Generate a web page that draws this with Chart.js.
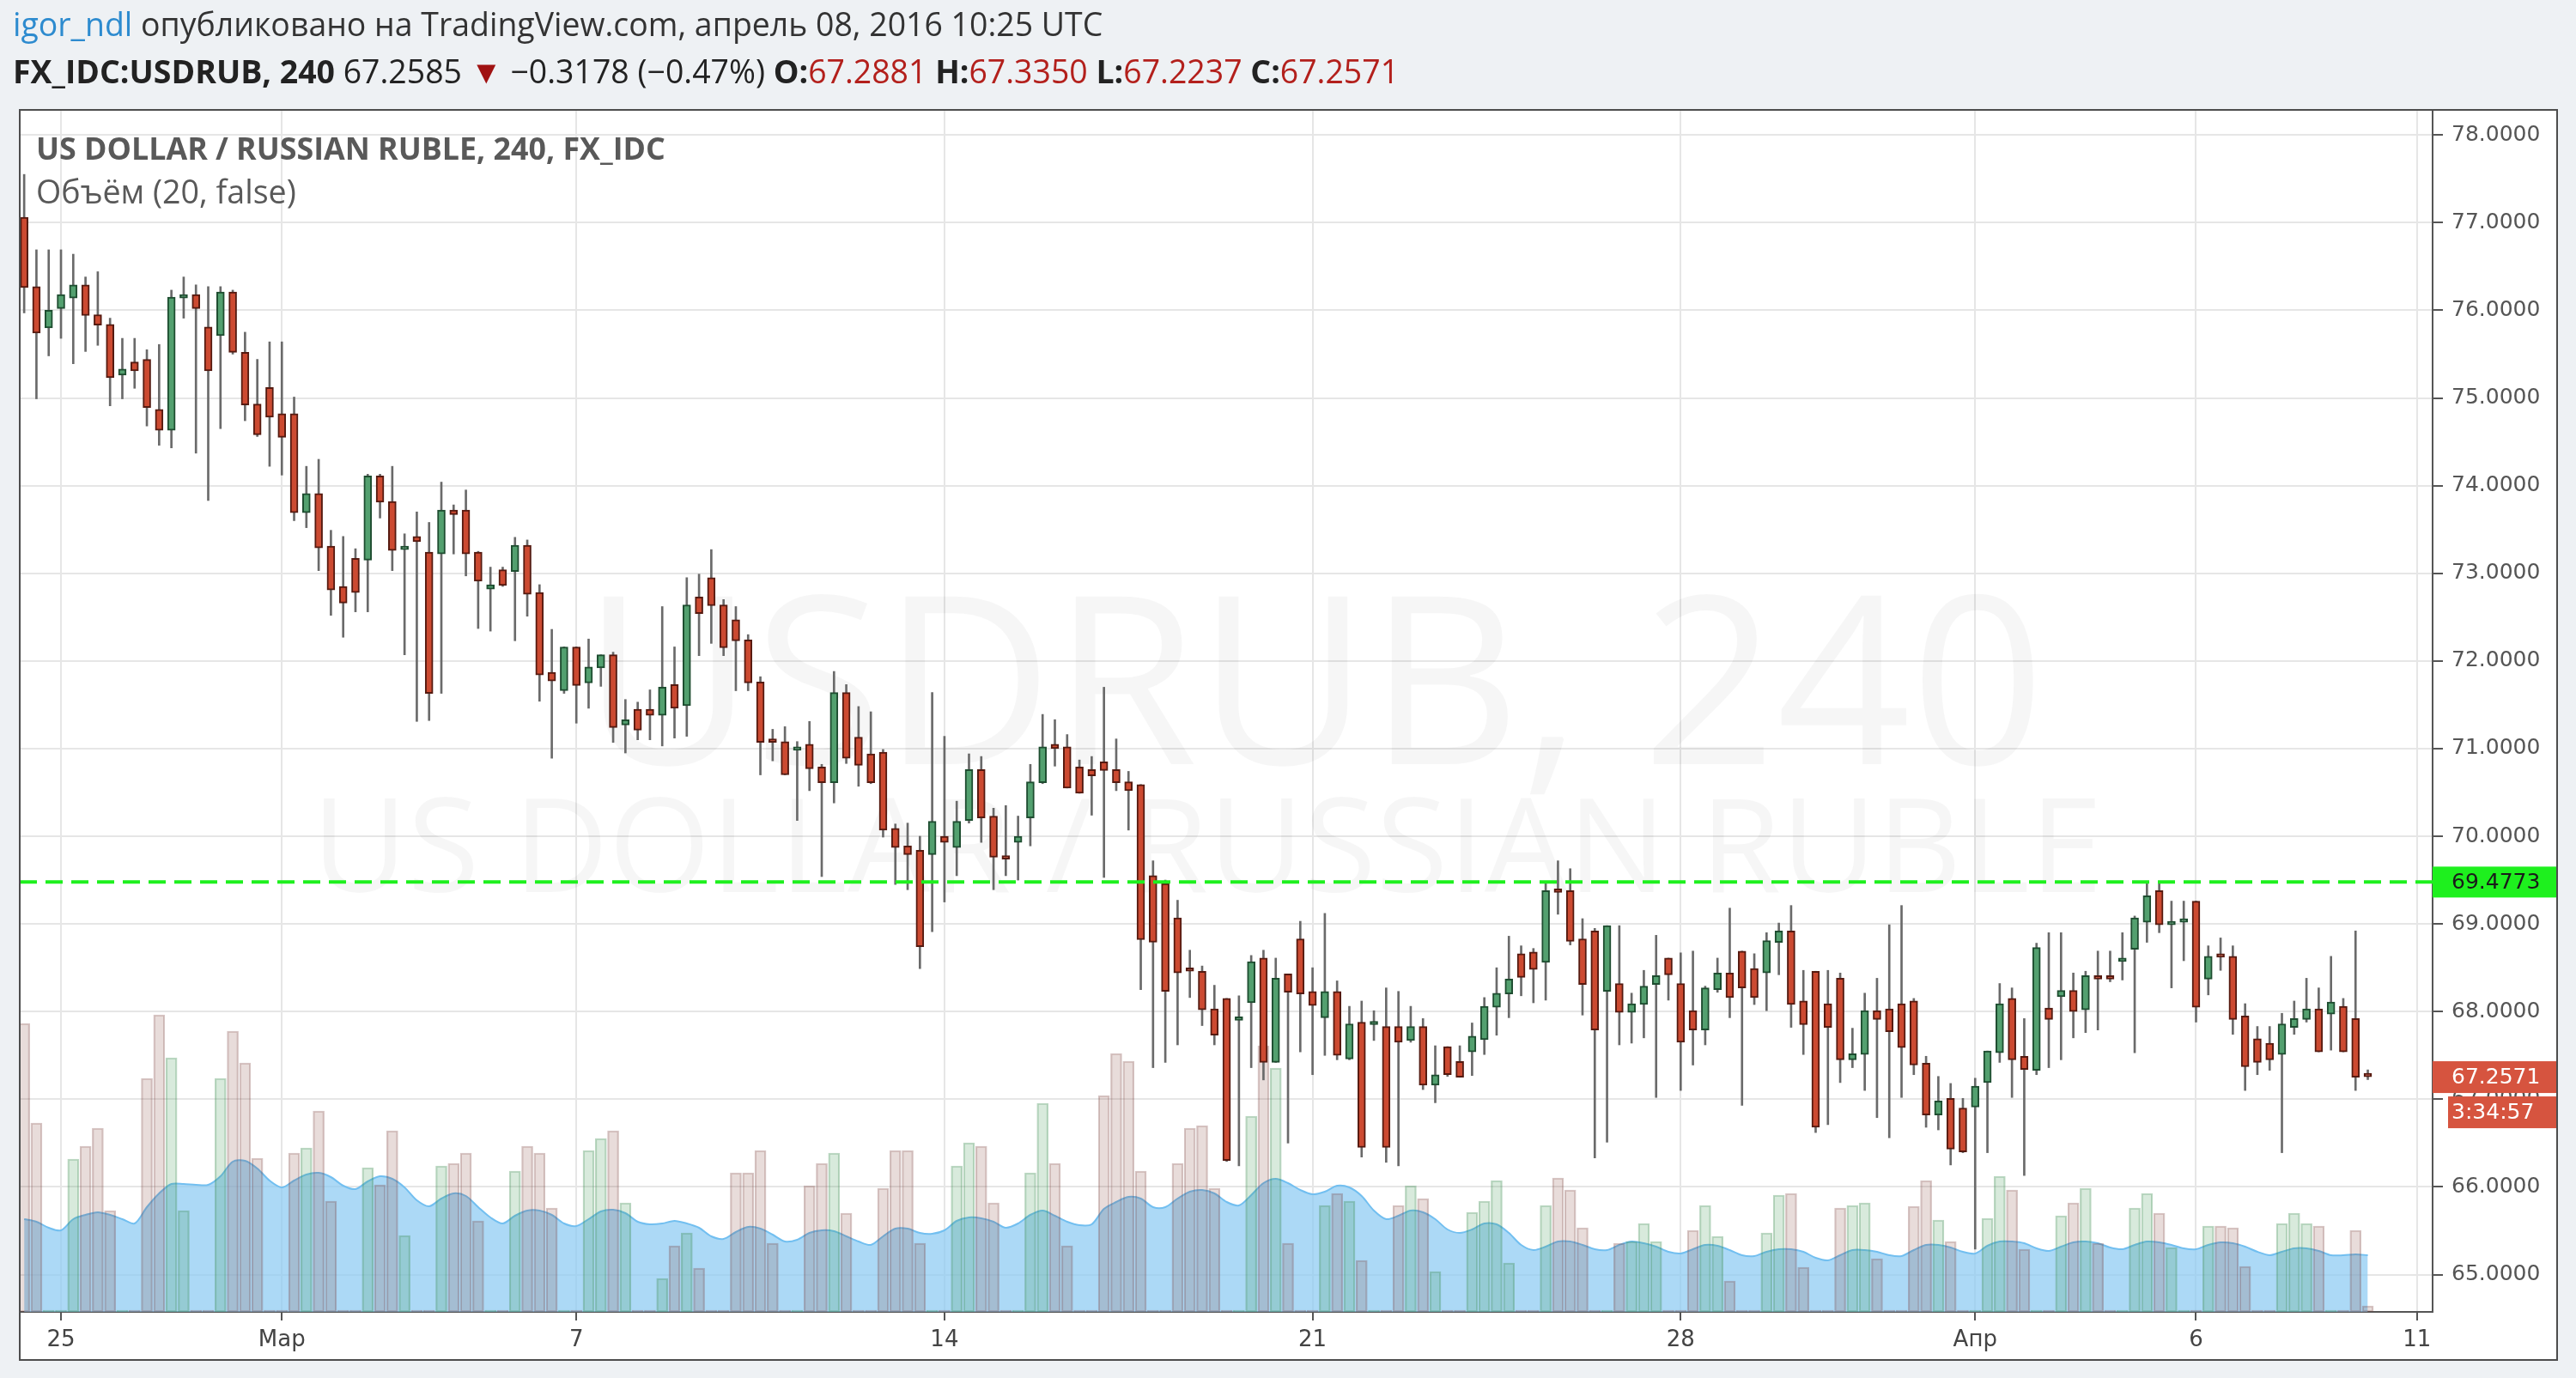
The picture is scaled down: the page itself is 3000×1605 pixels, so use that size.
<!DOCTYPE html>
<html>
<head>
<meta charset="utf-8">
<script src="https://cdn.jsdelivr.net/npm/chart.js@4.4.1/dist/chart.umd.min.js"></script>
<style>
  html, body { margin: 0; padding: 0; background: #eef1f4; }
  canvas { display: block; }
</style>
</head>
<body>
<canvas id="chart" width="3000" height="1605"></canvas>
<script>
// USDRUB 240 candles, Feb 24 2016 .. Apr 8 2016 (index = bar number)
const opens = [
  77.06,76.27,75.80,76.02,76.14,76.29,75.95,75.84,75.26,75.41,75.44,74.87,
  74.63,76.14,76.18,75.81,75.71,76.21,75.52,74.93,75.12,74.82,74.82,73.69,
  73.91,73.31,72.85,73.17,73.15,74.11,73.82,73.27,73.42,73.24,73.22,73.72,
  73.72,73.24,72.82,73.04,73.02,73.32,72.78,71.87,71.66,72.16,71.75,71.92,
  72.07,71.27,71.45,71.45,71.38,71.73,71.49,72.73,72.95,72.64,72.47,72.24,
  71.76,71.11,71.08,70.98,71.05,70.79,70.61,71.64,71.13,70.94,70.96,70.09,
  69.89,69.84,69.79,70.00,69.87,70.18,70.76,70.23,69.77,69.93,70.21,70.61,
  71.05,71.02,70.79,70.76,70.85,70.76,70.62,70.59,69.55,69.46,69.07,68.47,
  68.46,68.03,68.15,67.90,68.10,68.61,67.42,68.43,68.83,68.23,67.93,68.23,
  67.46,67.88,67.85,67.83,67.83,67.67,67.83,67.16,67.60,67.43,67.54,67.68,
  68.05,68.20,68.66,68.68,68.56,69.40,69.38,68.83,68.92,68.23,68.32,67.99,
  68.08,68.31,68.61,68.32,68.01,67.79,68.25,68.44,68.69,68.49,68.44,68.79,
  68.92,68.12,68.46,68.09,68.38,67.45,67.51,68.01,68.03,68.09,68.12,67.41,
  66.82,67.01,66.90,66.91,67.19,67.53,68.15,67.49,67.33,68.04,68.17,68.24,
  68.02,68.41,68.38,68.57,68.71,69.02,69.38,68.99,69.02,69.26,68.37,68.63,
  68.63,67.95,67.69,67.64,67.51,67.82,67.91,68.03,67.97,68.06,67.92,67.2881
];
const highs = [
  77.55,76.69,76.69,76.69,76.64,76.38,76.44,75.91,75.68,75.68,75.55,75.61,
  76.23,76.38,76.29,76.27,76.27,76.23,75.75,75.44,75.64,75.64,75.01,74.22,
  74.30,73.49,73.42,73.28,74.13,74.13,74.22,73.45,73.70,73.58,74.04,73.78,
  73.95,73.25,73.07,73.07,73.41,73.38,72.87,72.36,72.16,72.16,72.25,72.07,
  72.10,71.56,71.53,71.67,72.62,72.16,72.95,72.99,73.27,72.70,72.62,72.30,
  71.82,71.22,71.25,71.08,71.31,70.82,71.88,71.73,71.48,71.42,70.99,70.14,
  70.15,70.00,71.64,71.14,70.40,70.94,70.91,70.32,70.35,70.23,70.82,71.39,
  71.33,71.16,70.87,70.91,71.70,71.11,70.74,70.59,69.72,69.50,69.27,68.70,
  68.52,68.30,68.15,68.18,68.64,68.70,68.61,68.43,69.03,68.50,69.12,68.35,
  68.06,68.12,68.01,68.27,68.23,68.06,67.92,67.61,67.60,67.61,67.87,68.16,
  68.50,68.86,68.75,68.72,69.48,69.72,69.63,69.06,68.95,68.98,68.98,68.21,
  68.47,68.87,68.61,68.67,68.69,68.29,68.61,69.18,68.69,68.66,68.90,69.01,
  69.21,68.47,68.46,68.47,68.44,67.81,68.21,68.38,68.99,69.21,68.15,67.49,
  67.26,67.18,67.01,67.24,67.55,68.32,68.27,67.92,68.78,68.90,68.90,68.44,
  68.46,68.69,68.69,68.90,69.09,69.47,69.47,69.26,69.26,69.26,68.75,68.84,
  68.75,68.09,67.83,67.83,67.98,68.12,68.38,68.27,68.63,68.15,68.92,67.3350
];
const lows = [
  75.97,74.99,75.48,75.68,75.39,75.53,75.60,74.91,74.99,75.11,74.68,74.46,
  74.43,75.91,74.37,73.83,74.65,75.50,74.74,74.56,74.22,74.12,73.60,73.52,
  73.03,72.52,72.27,72.56,72.56,73.63,73.03,72.07,71.31,71.32,71.63,73.22,
  72.97,72.37,72.34,72.85,72.23,72.51,71.54,70.89,71.63,71.29,71.46,71.71,
  71.07,70.95,71.10,71.10,71.03,71.12,71.14,72.06,72.20,72.06,71.66,71.66,
  70.70,70.86,70.70,70.18,70.52,69.54,70.38,70.83,70.57,70.60,69.99,69.45,
  69.39,68.49,68.91,69.25,69.55,70.15,69.93,69.39,69.55,69.50,69.89,70.60,
  70.80,70.55,70.49,70.24,69.53,70.52,70.07,68.25,67.36,67.42,67.62,68.16,
  67.84,67.62,66.29,66.24,67.36,67.22,67.42,66.50,67.54,67.28,67.50,67.45,
  67.45,66.34,67.67,66.28,66.24,67.65,67.11,66.96,67.26,67.25,67.27,67.51,
  67.73,67.93,68.18,68.10,68.13,69.11,68.76,67.96,66.33,66.51,67.62,67.64,
  67.70,67.02,68.13,67.10,67.39,67.62,68.22,67.93,66.93,68.08,68.01,68.42,
  67.82,67.51,66.62,66.71,67.19,67.36,67.10,66.79,66.56,67.02,67.28,66.68,
  66.65,66.25,66.39,65.29,66.39,67.42,67.02,66.13,67.28,67.36,67.45,67.70,
  67.76,67.79,68.34,68.36,67.53,68.79,68.90,68.27,68.58,67.88,68.19,68.47,
  67.74,67.10,67.28,67.33,66.39,67.74,67.88,67.54,67.56,67.54,67.10,67.2237
];
const closes = [
  76.26,75.74,76.00,76.18,76.29,75.94,75.83,75.23,75.33,75.31,74.89,74.63,
  76.15,76.18,76.02,75.31,76.21,75.52,74.92,74.58,74.78,74.55,73.69,73.91,
  73.29,72.81,72.66,72.78,74.11,73.81,73.26,73.29,73.36,71.63,73.72,73.67,
  73.22,72.91,72.87,72.86,73.32,72.76,71.84,71.77,72.16,71.72,71.93,72.07,
  71.24,71.33,71.21,71.38,71.70,71.46,72.64,72.54,72.63,72.15,72.23,71.75,
  71.07,71.07,70.70,71.02,70.77,70.61,71.64,70.89,70.81,70.61,70.07,69.87,
  69.79,68.74,70.17,69.93,70.17,70.76,70.21,69.76,69.74,70.00,70.62,71.02,
  71.00,70.55,70.49,70.69,70.75,70.61,70.52,68.82,68.79,68.23,68.44,68.46,
  68.02,67.73,66.30,67.92,68.57,67.42,68.38,68.22,68.20,68.07,68.23,67.50,
  67.86,66.45,67.87,66.45,67.65,67.83,67.16,67.28,67.28,67.25,67.72,68.06,
  68.21,68.37,68.39,68.48,69.38,69.36,68.80,68.31,67.79,68.98,67.99,68.09,
  68.29,68.41,68.42,67.65,67.79,68.27,68.44,68.16,68.27,68.16,68.81,68.92,
  68.08,67.85,66.68,67.82,67.45,67.52,68.01,67.91,67.77,67.59,67.39,66.82,
  66.98,66.43,66.40,67.15,67.55,68.09,67.45,67.34,68.73,67.91,68.24,68.00,
  68.41,68.37,68.37,68.61,69.07,69.32,68.99,69.00,69.03,68.05,68.63,68.62,
  67.91,67.37,67.42,67.45,67.86,67.92,68.03,67.54,68.11,67.54,67.25,67.2571
];
const volumes = [
  336,220,2,2,178,193,214,118,2,2,272,346,
  296,118,2,2,272,327,290,179,2,2,185,191,
  234,129,2,2,168,148,211,89,2,2,170,173,
  185,106,2,2,164,193,185,121,2,2,188,202,
  211,127,2,2,39,77,92,51,2,2,162,162,
  188,80,2,2,147,173,185,115,2,2,144,188,
  188,80,2,2,170,197,193,127,2,2,162,243,
  173,77,2,2,252,301,292,164,2,2,173,214,
  217,144,2,2,228,310,284,80,2,2,124,138,
  129,60,2,2,124,147,132,47,2,2,116,129,
  153,57,2,2,124,156,142,98,2,2,80,82,
  103,82,2,2,95,124,88,36,2,2,92,136,
  138,52,2,2,121,124,127,62,2,2,123,153,
  107,82,2,2,109,158,142,73,2,2,112,127,
  144,80,2,2,121,138,115,75,2,2,100,100,
  98,53,2,2,103,115,103,100,2,2,95,7
];
const volumeMA = [
  108,105,98,95,108,113,116,113,108,103,122,138,
  149,149,148,148,158,175,176,167,153,145,153,160,
  162,157,147,143,152,158,155,145,130,123,132,138,
  135,122,110,103,112,118,118,113,103,100,108,117,
  119,115,105,102,103,106,103,98,88,85,93,99,
  97,90,82,84,92,95,94,88,82,78,88,97,
  97,92,91,95,106,110,109,105,98,103,113,118,
  112,105,101,102,120,128,134,132,122,122,132,140,
  142,138,128,124,136,150,155,150,142,137,140,147,
  145,135,118,108,112,118,116,108,96,92,96,103,
  102,92,78,72,76,82,82,78,73,72,78,82,
  80,76,70,68,73,78,77,72,66,65,70,73,
  73,70,63,60,66,72,72,70,66,65,72,78,
  78,75,70,68,77,82,82,80,74,71,76,81,
  82,80,75,73,78,82,81,78,74,73,78,81,
  80,76,70,66,70,74,74,71,66,66,67,66
];
const dateTickIndex = [3, 21, 45, 75, 105, 135, 159, 177, 195];
const dateTickLabels = ['25', 'Мар', '7', '14', '21', '28', 'Апр', '6', '11'];
const priceTicks = [65, 66, 67, 68, 69, 70, 71, 72, 73, 74, 75, 76, 77, 78];
const levelPrice = 69.4773;
const lastPrice = 67.2571;
const countdown = '3:34:57';

const frame = { left: 23, top: 128, right: 2978, bottom: 1584 };

const idx = opens.map((_, i) => i);
const up = idx.map(i => closes[i] >= opens[i]);

const bodyData = idx.map(i => ({ x: i, y: [Math.min(opens[i], closes[i]), Math.max(opens[i], closes[i])] }));
const wickData = idx.map(i => ({ x: i, y: [lows[i], highs[i]] }));
const volData = idx.map(i => ({ x: i, y: volumes[i] }));
const maData = idx.map(i => ({ x: i, y: volumeMA[i] }));

function fitSize(ctx, runs, family, width) {
  let total = 0;
  runs.forEach(r => {
    ctx.font = `${r.w} 100px ${family}`;
    total += ctx.measureText(r.t).width;
  });
  return 100 * width / total;
}

function drawRuns(ctx, runs, family, x, y, width) {
  const size = fitSize(ctx, runs, family, width);
  ctx.textAlign = 'left';
  ctx.textBaseline = 'middle';
  runs.forEach(r => {
    ctx.font = `${r.w} ${size}px ${family}`;
    ctx.fillStyle = r.c;
    ctx.fillText(r.t, x, y);
    x += ctx.measureText(r.t).width;
  });
}

const pagePlugin = {
  id: 'page',
  beforeDraw(chart) {
    const c = chart.ctx;
    c.save();
    c.fillStyle = '#eef1f4';
    c.fillRect(0, 0, chart.width, chart.height);
    c.fillStyle = '#ffffff';
    c.fillRect(frame.left, frame.top, frame.right - frame.left, frame.bottom - frame.top);

    const fam = '"Open Sans", sans-serif';
    drawRuns(c, [
      { t: 'igor_ndl', w: 'normal', c: '#2d8bcf' },
      { t: ' опубликовано на TradingView.com, апрель 08, 2016 10:25 UTC', w: 'normal', c: '#333333' }
    ], fam, 15, 31, 1270);

    const red = '#b3201c';
    drawRuns(c, [
      { t: 'FX_IDC:USDRUB, 240', w: 'bold', c: '#222222' },
      { t: ' 67.2585 ', w: 'normal', c: '#222222' },
      { t: '▼', w: 'normal', c: '#a01212' },
      { t: ' −0.3178 (−0.47%) ', w: 'normal', c: '#222222' },
      { t: 'O:', w: 'bold', c: '#222222' },
      { t: '67.2881 ', w: 'normal', c: red },
      { t: 'H:', w: 'bold', c: '#222222' },
      { t: '67.3350 ', w: 'normal', c: red },
      { t: 'L:', w: 'bold', c: '#222222' },
      { t: '67.2237 ', w: 'normal', c: red },
      { t: 'C:', w: 'bold', c: '#222222' },
      { t: '67.2571', w: 'normal', c: red }
    ], fam, 15, 86, 1615);
    c.restore();
  },
  beforeDatasetsDraw(chart) {
    const c = chart.ctx;
    const a = chart.chartArea;
    c.save();
    c.beginPath();
    c.rect(a.left, a.top, a.right - a.left, a.bottom - a.top);
    c.clip();
    c.fillStyle = 'rgba(0,0,0,0.035)';
    c.textAlign = 'center';
    c.textBaseline = 'alphabetic';
    const fam = '"Open Sans", sans-serif';
    let s = fitSize(c, [{ t: 'USDRUB, 240', w: 'normal' }], fam, 1703);
    c.font = `normal ${s}px ${fam}`;
    c.fillText('USDRUB, 240', 1530, 890);
    s = fitSize(c, [{ t: 'US DOLLAR / RUSSIAN RUBLE', w: 'normal' }], fam, 2086);
    c.font = `normal ${s}px ${fam}`;
    c.fillText('US DOLLAR / RUSSIAN RUBLE', 1406, 1039);
    c.restore();
  },
  afterDatasetsDraw(chart) {
    const c = chart.ctx;
    const a = chart.chartArea;
    const ys = chart.scales.y;
    c.save();
    const fam = '"Open Sans", sans-serif';
    drawRuns(c, [{ t: 'US DOLLAR / RUSSIAN RUBLE, 240, FX_IDC', w: 'bold', c: '#595959' }], fam, 42, 176, 733);
    drawRuns(c, [{ t: 'Объём (20, false)', w: 'normal', c: '#595959' }], fam, 42, 226, 303);

    // horizontal level
    const ly = ys.getPixelForValue(levelPrice);
    c.strokeStyle = '#1ef01e';
    c.lineWidth = 4;
    c.setLineDash([20, 10]);
    c.beginPath();
    c.moveTo(a.left, ly);
    c.lineTo(a.right, ly);
    c.stroke();
    c.restore();
  },
  afterDraw(chart) {
    const c = chart.ctx;
    const a = chart.chartArea;
    const ys = chart.scales.y;
    c.save();
    c.font = '25px "DejaVu Sans"';
    c.textBaseline = 'middle';
    c.textAlign = 'left';

    const ly = ys.getPixelForValue(levelPrice);
    c.fillStyle = '#1ef01e';
    c.fillRect(a.right, ly - 18, frame.right - a.right, 36);
    c.fillStyle = '#1a1a1a';
    c.fillText(levelPrice.toFixed(4), a.right + 22, ly + 1);

    const py = ys.getPixelForValue(lastPrice);
    c.fillStyle = '#d6543f';
    c.fillRect(a.right, py - 18, frame.right - a.right, 37);
    c.fillRect(a.right + 18, py + 23, frame.right - a.right - 18, 37);
    c.fillStyle = '#ffffff';
    c.fillText(lastPrice.toFixed(4), a.right + 22, py + 1);
    c.fillText(countdown, a.right + 22, py + 42);

    c.strokeStyle = '#4d4d4d';
    c.lineWidth = 2;
    c.setLineDash([]);
    c.strokeRect(frame.left, frame.top, frame.right - frame.left, frame.bottom - frame.top);
    c.restore();
  }
};

new Chart(document.getElementById('chart').getContext('2d'), {
  type: 'bar',
  data: {
    datasets: [
      {
        label: 'body',
        data: bodyData,
        backgroundColor: up.map(u => u ? '#53a06f' : '#cc4a31'),
        borderColor: up.map(u => u ? '#1e4d30' : '#551a10'),
        borderWidth: 2,
        borderSkipped: false,
        barThickness: 9,
        minBarLength: 4,
        grouped: false,
        order: 0,
        yAxisID: 'y'
      },
      {
        label: 'wick',
        data: wickData,
        backgroundColor: '#6a6a6a',
        barThickness: 2,
        grouped: false,
        order: 1,
        yAxisID: 'y'
      },
      {
        label: 'volume',
        data: volData,
        backgroundColor: up.map(u => u ? 'rgba(60,150,80,0.2)' : 'rgba(130,60,50,0.18)'),
        borderColor: up.map(u => u ? 'rgba(60,140,80,0.35)' : 'rgba(120,60,55,0.3)'),
        borderWidth: 1.5,
        borderSkipped: false,
        barThickness: 13,
        grouped: false,
        order: 2,
        yAxisID: 'yv'
      },
      {
        type: 'line',
        label: 'volume MA',
        data: maData,
        borderColor: '#72bff0',
        backgroundColor: 'rgba(140,203,243,0.72)',
        borderWidth: 2,
        fill: 'origin',
        pointRadius: 0,
        tension: 0.3,
        order: 3,
        yAxisID: 'yv'
      }
    ]
  },
  options: {
    responsive: false,
    animation: false,
    devicePixelRatio: 1,
    layout: { padding: { left: 23, top: 128, right: 22, bottom: 21 } },
    plugins: { legend: { display: false }, tooltip: { enabled: false } },
    scales: {
      x: {
        type: 'linear',
        min: -0.36,
        max: 196.28,
        offset: false,
        afterBuildTicks: s => { s.ticks = dateTickIndex.map(v => ({ value: v })); },
        afterFit: s => { s.height = 56; },
        ticks: {
          autoSkip: false,
          maxRotation: 0,
          padding: 8,
          color: '#444444',
          font: { family: 'DejaVu Sans', size: 26 },
          callback: v => {
            const j = dateTickIndex.indexOf(v);
            return j >= 0 ? dateTickLabels[j] : '';
          }
        },
        grid: { color: '#e6e6e6', lineWidth: 2, tickLength: 10, tickColor: '#555555', offset: false },
        border: { color: '#555555', width: 2 }
      },
      y: {
        position: 'right',
        min: 64.574,
        max: 78.286,
        beginAtZero: false,
        afterBuildTicks: s => { s.ticks = priceTicks.map(v => ({ value: v })); },
        afterFit: s => { s.width = 145; },
        ticks: {
          padding: 10,
          color: '#555555',
          font: { family: 'DejaVu Sans', size: 25 },
          callback: v => Number(v).toFixed(4)
        },
        grid: { color: '#e6e6e6', lineWidth: 2, tickLength: 12, tickColor: '#555555' },
        border: { color: '#555555', width: 2 }
      },
      yv: {
        display: false,
        position: 'left',
        min: 0,
        max: 1400
      }
    }
  },
  plugins: [pagePlugin]
});
</script>
</body>
</html>
